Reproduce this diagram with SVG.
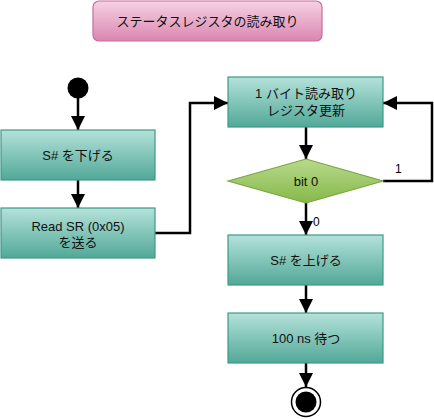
<svg xmlns="http://www.w3.org/2000/svg" width="434" height="419" viewBox="0 0 434 419">
<defs>
<linearGradient id="gBox" x1="0" y1="0" x2="0" y2="1">
<stop offset="0" stop-color="#b4e2da"/>
<stop offset="1" stop-color="#52a898"/>
</linearGradient>
<linearGradient id="gDia" x1="0" y1="0" x2="0" y2="1">
<stop offset="0" stop-color="#b8da8c"/>
<stop offset="1" stop-color="#86b84a"/>
</linearGradient>
<linearGradient id="gTitle" x1="0" y1="0" x2="0" y2="1">
<stop offset="0" stop-color="#f6d2e3"/>
<stop offset="1" stop-color="#da86b0"/>
</linearGradient>
<marker id="arr" viewBox="0 0 14 14" refX="14" refY="7" markerWidth="14" markerHeight="14" markerUnits="userSpaceOnUse" orient="auto">
<path d="M0,0 L14,7 L0,14 Z" fill="#000"/>
</marker>
</defs>
<style>
.box{fill:url(#gBox);stroke:#3d9a88;stroke-width:1.2}
.dia{fill:url(#gDia);stroke:#78a640;stroke-width:1.2}
.t{font-family:"Liberation Sans","Noto Sans CJK JP",sans-serif;font-size:13px;fill:#111;text-anchor:middle}
.lbl{font-family:"Liberation Sans",sans-serif;font-size:12px;fill:#000}
.c{fill:none;stroke:#000;stroke-width:2.5}
</style>
<g id="title">
<rect x="93" y="1" width="229" height="40" rx="6" fill="url(#gTitle)" stroke="#cc6a9c" stroke-width="1.2"/>
<text class="t" x="207.5" y="26" font-size="14">ステータスレジスタの読み取り</text>
</g>
<g id="connectors">
<line class="c" x1="78" y1="98" x2="78" y2="130" marker-end="url(#arr)"/>
<line class="c" x1="78" y1="180" x2="78" y2="208" marker-end="url(#arr)"/>
<polyline class="c" points="155,233 190,233 190,103 228,103" marker-end="url(#arr)"/>
<line class="c" x1="306" y1="127" x2="306" y2="159" marker-end="url(#arr)"/>
<polyline class="c" points="383,181 432,181 432,103 383,103" marker-end="url(#arr)"/>
<line class="c" x1="306" y1="203" x2="306" y2="235" marker-end="url(#arr)"/>
<line class="c" x1="306" y1="285" x2="306" y2="313" marker-end="url(#arr)"/>
<line class="c" x1="306" y1="363" x2="306" y2="387" marker-end="url(#arr)"/>
<text class="lbl" x="395" y="173">1</text>
<text class="lbl" x="313" y="226">0</text>
</g>
<g id="start">
<circle cx="78" cy="88" r="10.5" fill="#000"/>
</g>
<g id="n1">
<rect class="box" x="1" y="130" width="154" height="50"/>
<text class="t" x="78" y="160">S# を下げる</text>
</g>
<g id="n2">
<rect class="box" x="1" y="208" width="154" height="50"/>
<text class="t" x="78" y="231">Read SR (0x05)</text>
<text class="t" x="78" y="247">を送る</text>
</g>
<g id="n3">
<rect class="box" x="228" y="77" width="155" height="50"/>
<text class="t" x="306" y="98">1 バイト読み取り</text>
<text class="t" x="306" y="115">レジスタ更新</text>
</g>
<g id="d1">
<polygon class="dia" points="228,181 306,159 383,181 306,203"/>
<text class="t" x="306" y="186">bit 0</text>
</g>
<g id="n4">
<rect class="box" x="228" y="235" width="155" height="50"/>
<text class="t" x="306" y="265">S# を上げる</text>
</g>
<g id="n5">
<rect class="box" x="228" y="313" width="155" height="50"/>
<text class="t" x="306" y="343">100 ns 待つ</text>
</g>
<g id="end">
<circle cx="306" cy="402" r="14.5" fill="#fff" stroke="#000" stroke-width="1.5"/>
<circle cx="306" cy="402" r="10.5" fill="#000"/>
</g>
</svg>
